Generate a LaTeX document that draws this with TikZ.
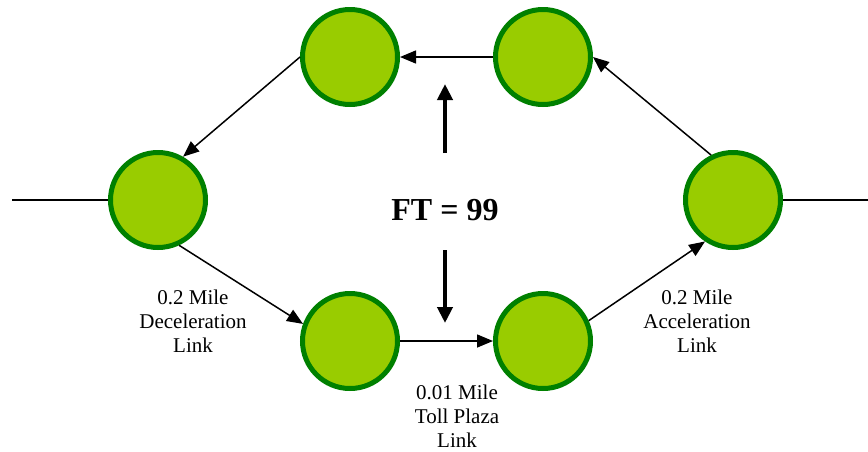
\documentclass[tikz,border=0pt]{standalone}
\usepackage{fontspec}
\setmainfont{Liberation Serif}
\usetikzlibrary{arrows.meta}

\begin{document}
\begin{tikzpicture}[x=1pt, y=-1pt,
        junction/.style={circle, draw=linkgreen, fill=nodegreen, line width=5pt, minimum size=95pt, inner sep=0pt},
        link/.style={-{Triangle[length=16pt,width=13pt]}, line width=1.5pt},
        bigarrow/.style={-{Triangle[length=16pt,width=15pt]}, line width=4pt},
        linklabel/.style={align=center, font=\fontsize{21}{24}\selectfont}]
        \definecolor{nodegreen}{HTML}{99CC00}
        \definecolor{linkgreen}{HTML}{008000}

        % frame of the picture
        \useasboundingbox (0,0) rectangle (868,451);

        % the six junctions of the loop
        \node[junction] (west) at (158,200) {};
        \node[junction] (topleft) at (350,57) {};
        \node[junction] (topright) at (543,57) {};
        \node[junction] (botleft) at (350,341) {};
        \node[junction] (botright) at (543,341) {};
        \node[junction] (east) at (733,200) {};

        % loose ends of the through road
        \coordinate (inroad) at (12,200);
        \coordinate (outroad) at (868,200);
        \draw[line width=1.5pt] (inroad) -- (west.west);
        \draw[line width=1.5pt] (east.east) -- (outroad);

        % links between the junctions
        \draw[link] (topleft.west) -- (west.60);
        \draw[link] (topright.west) -- (topleft.east);
        \draw[link] (east.116) -- (topright.east);
        \draw[link] (west.-65) -- (botleft.160);
        \draw[link] (botleft.east) -- (botright.west);
        \draw[link] (botright.24) -- (east.236);

        % facility type in the middle
        \node[font=\bfseries\fontsize{32}{36}\selectfont] (ft) at (445,210) {FT = 99};
        \coordinate (upstart) at (445,153);
        \coordinate (uptip) at (445,84);
        \coordinate (downstart) at (445,250);
        \coordinate (downtip) at (445,323);
        \draw[bigarrow] (upstart) -- (uptip);
        \draw[bigarrow] (downstart) -- (downtip);

        % link labels
        \node[linklabel] (decel) at (193,321) {0.2 Mile\\Deceleration\\Link};
        \node[linklabel] (toll) at (457,416) {0.01 Mile\\Toll Plaza\\Link};
        \node[linklabel] (accel) at (697,321) {0.2 Mile\\Acceleration\\Link};

\end{tikzpicture}
\end{document}
